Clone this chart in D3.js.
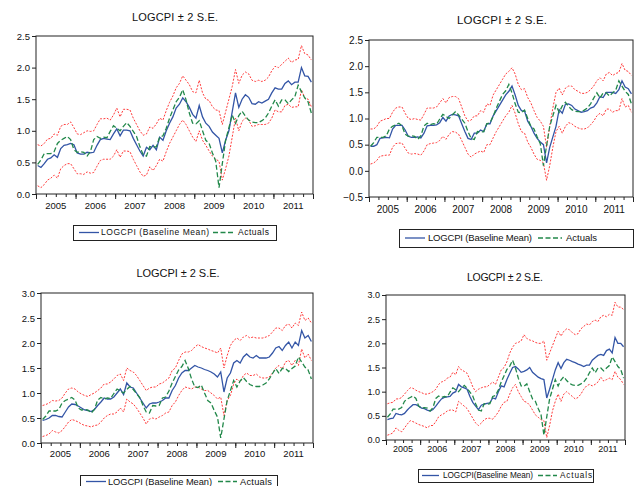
<!DOCTYPE html>
<html><head><meta charset="utf-8">
<script src="https://cdn.jsdelivr.net/npm/d3@7"></script>
<style>
body{margin:0;background:#fff}
svg{display:block}
</style></head><body>
<svg id="chart" width="636" height="486"></svg>
<script>
// Monthly observations 2005M01 - 2011M12
const years = ["2005","2006","2007","2008","2009","2010","2011"];
const chartTitle = "LOGCPI \u00b1 2 S.E.";
const meanLabel = "LOGCPI (Baseline Mean)";
const meanLabelTight = "LOGCPI(Baseline Mean)";
const actualLabel = "Actuals";

const actuals = [
 0.47,0.54,0.64,0.64,0.64,0.67,0.80,0.85,0.88,0.91,0.86,0.70,
 0.66,0.67,0.66,0.60,0.67,0.86,0.91,0.88,0.90,0.89,0.99,1.08,
 1.04,1.00,1.07,1.13,1.07,0.99,0.91,0.75,0.62,0.60,0.75,0.74,
 0.75,0.90,0.92,1.04,1.20,1.33,1.46,1.53,1.65,1.49,1.28,1.12,
 1.11,1.16,1.00,0.85,0.80,0.65,0.52,0.10,0.48,0.85,1.05,1.25,
 1.12,1.24,1.31,1.23,1.17,1.14,1.13,1.13,1.16,1.20,1.28,1.39,
 1.49,1.39,1.49,1.49,1.43,1.49,1.54,1.72,1.62,1.52,1.46,1.28];

// Model 1
const mean1 = [
 0.45,0.42,0.48,0.55,0.57,0.62,0.58,0.72,0.77,0.78,0.80,0.78,
 0.65,0.63,0.63,0.66,0.65,0.66,0.77,0.86,0.88,0.87,0.86,0.95,
 1.03,0.92,1.01,1.01,1.00,0.88,0.78,0.68,0.60,0.74,0.70,0.77,
 0.70,0.90,0.85,1.00,1.12,1.22,1.36,1.42,1.52,1.46,1.37,1.26,
 1.20,1.40,1.22,1.12,1.07,0.98,0.93,0.88,0.65,0.85,1.00,1.30,
 1.60,1.37,1.50,1.57,1.53,1.43,1.42,1.46,1.44,1.47,1.50,1.60,
 1.68,1.66,1.66,1.75,1.79,1.73,1.77,1.77,2.00,1.87,1.86,1.77];
const upper1 = [
 0.78,0.76,0.80,0.87,0.88,0.95,0.93,1.07,1.10,1.10,1.14,1.05,
 0.95,0.94,0.97,1.00,0.99,1.00,1.10,1.19,1.19,1.20,1.17,1.25,
 1.36,1.22,1.34,1.34,1.33,1.20,1.10,1.00,0.93,0.95,1.06,1.04,
 1.11,1.20,1.17,1.32,1.45,1.55,1.68,1.75,1.87,1.80,1.73,1.62,
 1.60,1.80,1.60,1.50,1.48,1.38,1.33,1.32,1.10,1.30,1.50,1.70,
 1.97,1.75,1.88,1.93,1.90,1.80,1.78,1.80,1.78,1.80,1.85,1.95,
 2.02,2.00,2.05,2.10,2.15,2.08,2.12,2.13,2.35,2.22,2.20,2.12];
const lower1 = [
 0.13,0.10,0.15,0.22,0.25,0.30,0.25,0.40,0.45,0.48,0.48,0.40,
 0.32,0.32,0.31,0.35,0.33,0.34,0.44,0.53,0.55,0.55,0.55,0.60,
 0.70,0.58,0.68,0.68,0.67,0.55,0.45,0.35,0.28,0.30,0.43,0.37,
 0.45,0.55,0.52,0.67,0.80,0.90,1.00,1.10,1.17,1.10,1.00,0.90,
 0.83,1.00,0.85,0.77,0.68,0.60,0.55,0.52,0.22,0.40,0.60,0.90,
 1.20,1.00,1.15,1.20,1.17,1.07,1.08,1.10,1.10,1.10,1.12,1.20,
 1.33,1.30,1.30,1.40,1.42,1.37,1.38,1.38,1.65,1.52,1.50,1.38];

// Model 2
const mean2 = [
 0.47,0.47,0.50,0.62,0.63,0.64,0.63,0.80,0.87,0.87,0.87,0.78,
 0.66,0.64,0.64,0.65,0.63,0.72,0.86,0.87,0.87,0.88,0.92,1.02,
 0.95,1.05,1.08,1.07,1.05,0.90,0.75,0.62,0.60,0.72,0.72,0.78,
 0.75,0.90,0.90,1.05,1.15,1.25,1.35,1.45,1.52,1.62,1.45,1.25,
 1.15,1.14,0.95,0.85,0.72,0.62,0.55,0.50,0.15,0.45,0.65,0.85,
 1.17,1.10,1.27,1.28,1.25,1.18,1.15,1.12,1.13,1.15,1.20,1.22,
 1.30,1.42,1.40,1.50,1.50,1.50,1.48,1.55,1.72,1.60,1.57,1.47];
const upper2 = [
 0.80,0.80,0.85,0.95,0.97,1.00,1.00,1.12,1.20,1.22,1.22,1.10,
 1.00,0.98,1.00,0.98,0.97,1.08,1.20,1.20,1.20,1.22,1.30,1.38,
 1.30,1.40,1.42,1.42,1.38,1.22,1.05,0.95,0.97,1.05,1.05,1.15,
 1.12,1.28,1.25,1.45,1.55,1.65,1.75,1.85,1.90,1.97,1.85,1.65,
 1.55,1.57,1.40,1.30,1.15,1.02,0.95,0.85,0.45,0.85,1.20,1.50,
 1.58,1.45,1.58,1.62,1.62,1.55,1.52,1.48,1.48,1.50,1.55,1.62,
 1.72,1.78,1.72,1.85,1.88,1.82,1.86,1.88,2.05,1.92,1.90,1.82];
const lower2 = [
 0.13,0.15,0.20,0.28,0.29,0.30,0.30,0.45,0.52,0.53,0.53,0.43,
 0.34,0.32,0.33,0.32,0.30,0.38,0.50,0.52,0.53,0.54,0.58,0.66,
 0.60,0.70,0.75,0.74,0.70,0.58,0.45,0.32,0.26,0.32,0.35,0.38,
 0.35,0.50,0.50,0.63,0.75,0.85,0.95,1.05,1.12,1.25,1.10,0.90,
 0.75,0.72,0.55,0.45,0.32,0.22,0.20,0.15,-0.18,0.10,0.45,0.75,
 0.85,0.72,0.85,0.92,0.90,0.85,0.82,0.80,0.80,0.82,0.88,0.95,
 1.05,1.10,1.05,1.18,1.18,1.12,1.15,1.15,1.38,1.22,1.25,1.12];

// Model 3
const mean3 = [
 0.45,0.47,0.50,0.55,0.55,0.53,0.52,0.62,0.72,0.78,0.77,0.74,
 0.70,0.66,0.65,0.63,0.67,0.75,0.82,0.90,0.88,0.88,0.92,1.00,
 1.08,0.97,1.20,1.12,1.10,1.00,0.90,0.80,0.70,0.78,0.80,0.80,
 0.82,0.85,0.90,0.90,1.05,1.15,1.30,1.40,1.45,1.45,1.50,1.55,
 1.52,1.50,1.47,1.45,1.42,1.38,1.32,1.42,1.02,1.30,1.40,1.60,
 1.65,1.60,1.72,1.78,1.72,1.70,1.75,1.70,1.70,1.70,1.72,1.80,
 1.90,1.93,1.85,1.95,2.02,1.90,2.02,1.95,2.25,2.10,2.15,2.03];
const upper3 = [
 0.75,0.77,0.80,0.85,0.84,0.85,0.90,1.00,1.08,1.10,1.08,1.02,
 0.98,0.95,0.93,0.97,1.00,1.05,1.10,1.18,1.18,1.22,1.28,1.35,
 1.38,1.25,1.50,1.45,1.42,1.35,1.25,1.15,1.05,1.10,1.12,1.12,
 1.18,1.20,1.25,1.30,1.45,1.50,1.65,1.78,1.82,1.82,1.85,1.92,
 1.97,1.93,1.90,1.88,1.85,1.83,1.80,1.90,1.50,1.75,1.95,2.05,
 2.10,2.05,2.12,2.15,2.10,2.12,2.10,2.10,2.10,2.12,2.15,2.22,
 2.30,2.30,2.25,2.35,2.38,2.30,2.40,2.35,2.62,2.45,2.50,2.40];
const lower3 = [
 0.13,0.15,0.18,0.25,0.22,0.20,0.25,0.33,0.42,0.47,0.45,0.42,
 0.38,0.35,0.34,0.32,0.35,0.36,0.42,0.50,0.55,0.58,0.58,0.62,
 0.70,0.62,0.88,0.82,0.78,0.70,0.60,0.50,0.38,0.48,0.50,0.48,
 0.52,0.55,0.60,0.62,0.75,0.82,0.95,1.05,1.12,1.10,1.08,1.12,
 1.12,1.08,1.05,1.05,1.00,0.95,0.88,0.92,0.55,0.85,0.95,1.18,
 1.28,1.22,1.35,1.40,1.35,1.35,1.38,1.32,1.30,1.30,1.32,1.40,
 1.50,1.55,1.48,1.62,1.65,1.55,1.65,1.55,1.88,1.70,1.78,1.65];

// Model 4
const mean4 = [
 0.42,0.44,0.45,0.55,0.53,0.52,0.55,0.62,0.68,0.73,0.73,0.70,
 0.66,0.65,0.62,0.60,0.63,0.70,0.78,0.85,0.88,0.89,0.90,0.97,
 1.00,1.15,1.10,1.08,1.05,0.90,0.78,0.70,0.63,0.72,0.74,0.76,
 0.77,0.87,0.85,1.00,1.12,1.10,1.25,1.38,1.50,1.52,1.47,1.40,
 1.42,1.45,1.50,1.40,1.35,1.30,1.27,1.25,0.87,1.05,1.25,1.45,
 1.60,1.48,1.60,1.67,1.65,1.62,1.60,1.57,1.55,1.52,1.55,1.55,
 1.65,1.70,1.75,1.77,1.75,1.85,1.88,1.80,2.12,2.00,2.00,1.93];
const upper4 = [
 0.75,0.77,0.78,0.85,0.85,0.88,0.95,1.02,1.08,1.07,1.03,1.00,
 0.98,0.95,0.95,0.97,1.00,1.05,1.15,1.20,1.22,1.28,1.30,1.40,
 1.35,1.52,1.45,1.42,1.38,1.25,1.10,1.00,1.05,1.08,1.10,1.10,
 1.15,1.20,1.15,1.30,1.45,1.50,1.62,1.80,1.92,2.00,2.02,2.05,
 2.18,2.10,2.07,2.05,2.02,2.00,2.00,2.05,1.65,1.80,1.95,2.10,
 2.25,2.15,2.25,2.30,2.28,2.22,2.18,2.20,2.30,2.35,2.40,2.38,
 2.45,2.48,2.45,2.55,2.58,2.55,2.60,2.58,2.85,2.75,2.75,2.70];
const lower4 = [
 0.10,0.12,0.15,0.25,0.20,0.17,0.25,0.33,0.40,0.38,0.35,0.32,
 0.30,0.28,0.25,0.30,0.30,0.38,0.48,0.52,0.55,0.60,0.62,0.62,
 0.58,0.80,0.75,0.70,0.65,0.55,0.45,0.35,0.30,0.35,0.42,0.45,
 0.45,0.43,0.50,0.58,0.70,0.78,0.80,0.95,1.08,1.15,1.00,0.90,
 0.80,0.78,0.72,0.62,0.52,0.47,0.42,0.40,0.05,0.30,0.60,0.80,
 0.95,0.80,0.95,1.00,0.95,0.90,0.85,0.88,0.95,1.05,1.12,1.15,
 1.12,1.15,1.20,1.30,1.22,1.25,1.28,1.25,1.42,1.30,1.25,1.15];

const yTicksA = [0.0,0.5,1.0,1.5,2.0,2.5];
const yTicksB = [-0.5,0.0,0.5,1.0,1.5,2.0,2.5];
const yTicksC = [0.0,0.5,1.0,1.5,2.0,2.5,3.0];

const colors = {mean:"#3355a6", actual:"#22884a", band:"#ff3b3b", axis:"#222"};

// Layout of the four panels
const panels = [
  {mean:mean1, upper:upper1, lower:lower1, yDomain:[0,2.5], yTicks:yTicksA,
   left:36, right:313, top:36, bottom:194,
   title:{x:175, y:21, size:11, len:86}, tickFont:9.5, yearY:209,
   legend:{x0:73, x1:276, y0:225, y1:240, font:8.5, label:meanLabel, len1:108, len2:31,
           b0:79, b1:99, t1:101, g0:213, g1:235, t2:238}},
  {mean:mean2, upper:upper2, lower:lower2, yDomain:[-0.5,2.5], yTicks:yTicksB,
   left:369, right:633, top:40, bottom:197,
   title:{x:502, y:24, size:11.5, len:90}, tickFont:10, yearY:213,
   legend:{x0:399, x1:633, y0:229, y1:247, font:9.5, label:meanLabel, len1:104, len2:31,
           b0:405, b1:425, t1:428, g0:538, g1:562, t2:566}},
  {mean:mean3, upper:upper3, lower:lower3, yDomain:[0,3], yTicks:yTicksC,
   left:41, right:313, top:293, bottom:443,
   title:{x:178, y:277, size:11, len:83}, tickFont:9.5, yearY:457,
   legend:{x0:80, x1:277, y0:475, y1:488, font:9.3, label:meanLabel, len1:104, len2:32,
           b0:86, b1:106, t1:108, g0:218, g1:237, t2:240}},
  {mean:mean4, upper:upper4, lower:lower4, yDomain:[0,3], yTicks:yTicksC,
   left:386, right:625, top:295, bottom:440,
   title:{x:505, y:281, size:10.5, len:76}, tickFont:9, yearY:452,
   legend:{x0:418, x1:593, y0:469, y1:482, font:8.2, label:meanLabelTight, len1:90, len2:32,
           b0:422, b1:439, t1:443, g0:538, g1:557, t2:560}}
];

const font = "'Liberation Sans', Arial, Helvetica, sans-serif";
const svg = d3.select("#chart");
const n = actuals.length;

panels.forEach(p => {
  const g = svg.append("g").attr("font-family", font);
  const x = d3.scaleLinear().domain([-0.5, n - 0.5]).range([p.left, p.right]);
  const y = d3.scaleLinear().domain(p.yDomain).range([p.bottom, p.top]);

  g.append("text")
    .attr("x", p.title.x - p.title.len / 2).attr("y", p.title.y)
    .attr("font-size", p.title.size)
    .attr("textLength", p.title.len).attr("lengthAdjust", "spacing")
    .attr("fill", "#111")
    .text(chartTitle);

  // value axis
  g.append("g")
    .attr("transform", `translate(${p.left},0)`)
    .call(d3.axisLeft(y).tickValues(p.yTicks).tickFormat(d3.format(".1f")).tickSize(4).tickPadding(2))
    .call(s => s.select(".domain").remove())
    .call(s => s.attr("font-family", font).attr("font-size", p.tickFont))
    .call(s => s.selectAll("line").attr("stroke", colors.axis))
    .call(s => s.selectAll("text").attr("fill", "#111"));

  // time axis: quarter ticks plus longer year ticks
  const quarterBounds = d3.range(0, n + 1, 3).map(v => v - 0.5);
  const yearBounds = d3.range(0, n + 1, 12).map(v => v - 0.5);
  g.append("g")
    .attr("transform", `translate(0,${p.bottom})`)
    .call(d3.axisBottom(x).tickValues(quarterBounds).tickFormat("").tickSize(3))
    .call(s => s.select(".domain").remove())
    .call(s => s.selectAll("line").attr("stroke", colors.axis));
  g.append("g")
    .attr("transform", `translate(0,${p.bottom})`)
    .call(d3.axisBottom(x).tickValues(yearBounds).tickFormat("").tickSize(5))
    .call(s => s.select(".domain").remove())
    .call(s => s.selectAll("line").attr("stroke", colors.axis));

  g.selectAll("text.year").data(years).enter().append("text")
    .attr("class", "year")
    .attr("x", (d, k) => x(k * 12 + 5.5))
    .attr("y", p.yearY)
    .attr("text-anchor", "middle")
    .attr("font-size", p.tickFont)
    .attr("fill", "#111")
    .text(d => d);

  const line = d3.line().x((d, i) => x(i)).y(d => y(d));

  g.append("path").datum(p.upper).attr("d", line)
    .attr("fill", "none").attr("stroke", colors.band).attr("stroke-width", 1)
    .attr("stroke-dasharray", "2,1.5");
  g.append("path").datum(p.lower).attr("d", line)
    .attr("fill", "none").attr("stroke", colors.band).attr("stroke-width", 1)
    .attr("stroke-dasharray", "2,1.5");
  g.append("path").datum(p.mean).attr("d", line)
    .attr("fill", "none").attr("stroke", colors.mean).attr("stroke-width", 1.3);
  g.append("path").datum(actuals).attr("d", line)
    .attr("fill", "none").attr("stroke", colors.actual).attr("stroke-width", 1.3)
    .attr("stroke-dasharray", "5,2.5");

  // plot frame
  g.append("rect")
    .attr("x", p.left).attr("y", p.top)
    .attr("width", p.right - p.left).attr("height", p.bottom - p.top)
    .attr("fill", "none").attr("stroke", colors.axis).attr("stroke-width", 1);

  // legend
  const L = p.legend;
  const ly = (L.y0 + L.y1) / 2;
  g.append("rect")
    .attr("x", L.x0 + 0.5).attr("y", L.y0 + 0.5)
    .attr("width", L.x1 - L.x0).attr("height", L.y1 - L.y0)
    .attr("fill", "#fff").attr("stroke", colors.axis).attr("stroke-width", 1);
  g.append("line").attr("x1", L.b0).attr("x2", L.b1).attr("y1", ly).attr("y2", ly)
    .attr("stroke", colors.mean).attr("stroke-width", 1.3);
  g.append("text").attr("x", L.t1).attr("y", ly).attr("dy", "0.35em")
    .attr("font-size", L.font).attr("fill", "#111")
    .attr("textLength", L.len1).attr("lengthAdjust", "spacing")
    .text(L.label);
  g.append("line").attr("x1", L.g0).attr("x2", L.g1).attr("y1", ly).attr("y2", ly)
    .attr("stroke", colors.actual).attr("stroke-width", 1.3).attr("stroke-dasharray", "5,2.5");
  g.append("text").attr("x", L.t2).attr("y", ly).attr("dy", "0.35em")
    .attr("font-size", L.font).attr("fill", "#111")
    .attr("textLength", L.len2).attr("lengthAdjust", "spacing")
    .text(actualLabel);
});
</script>
</body></html>
